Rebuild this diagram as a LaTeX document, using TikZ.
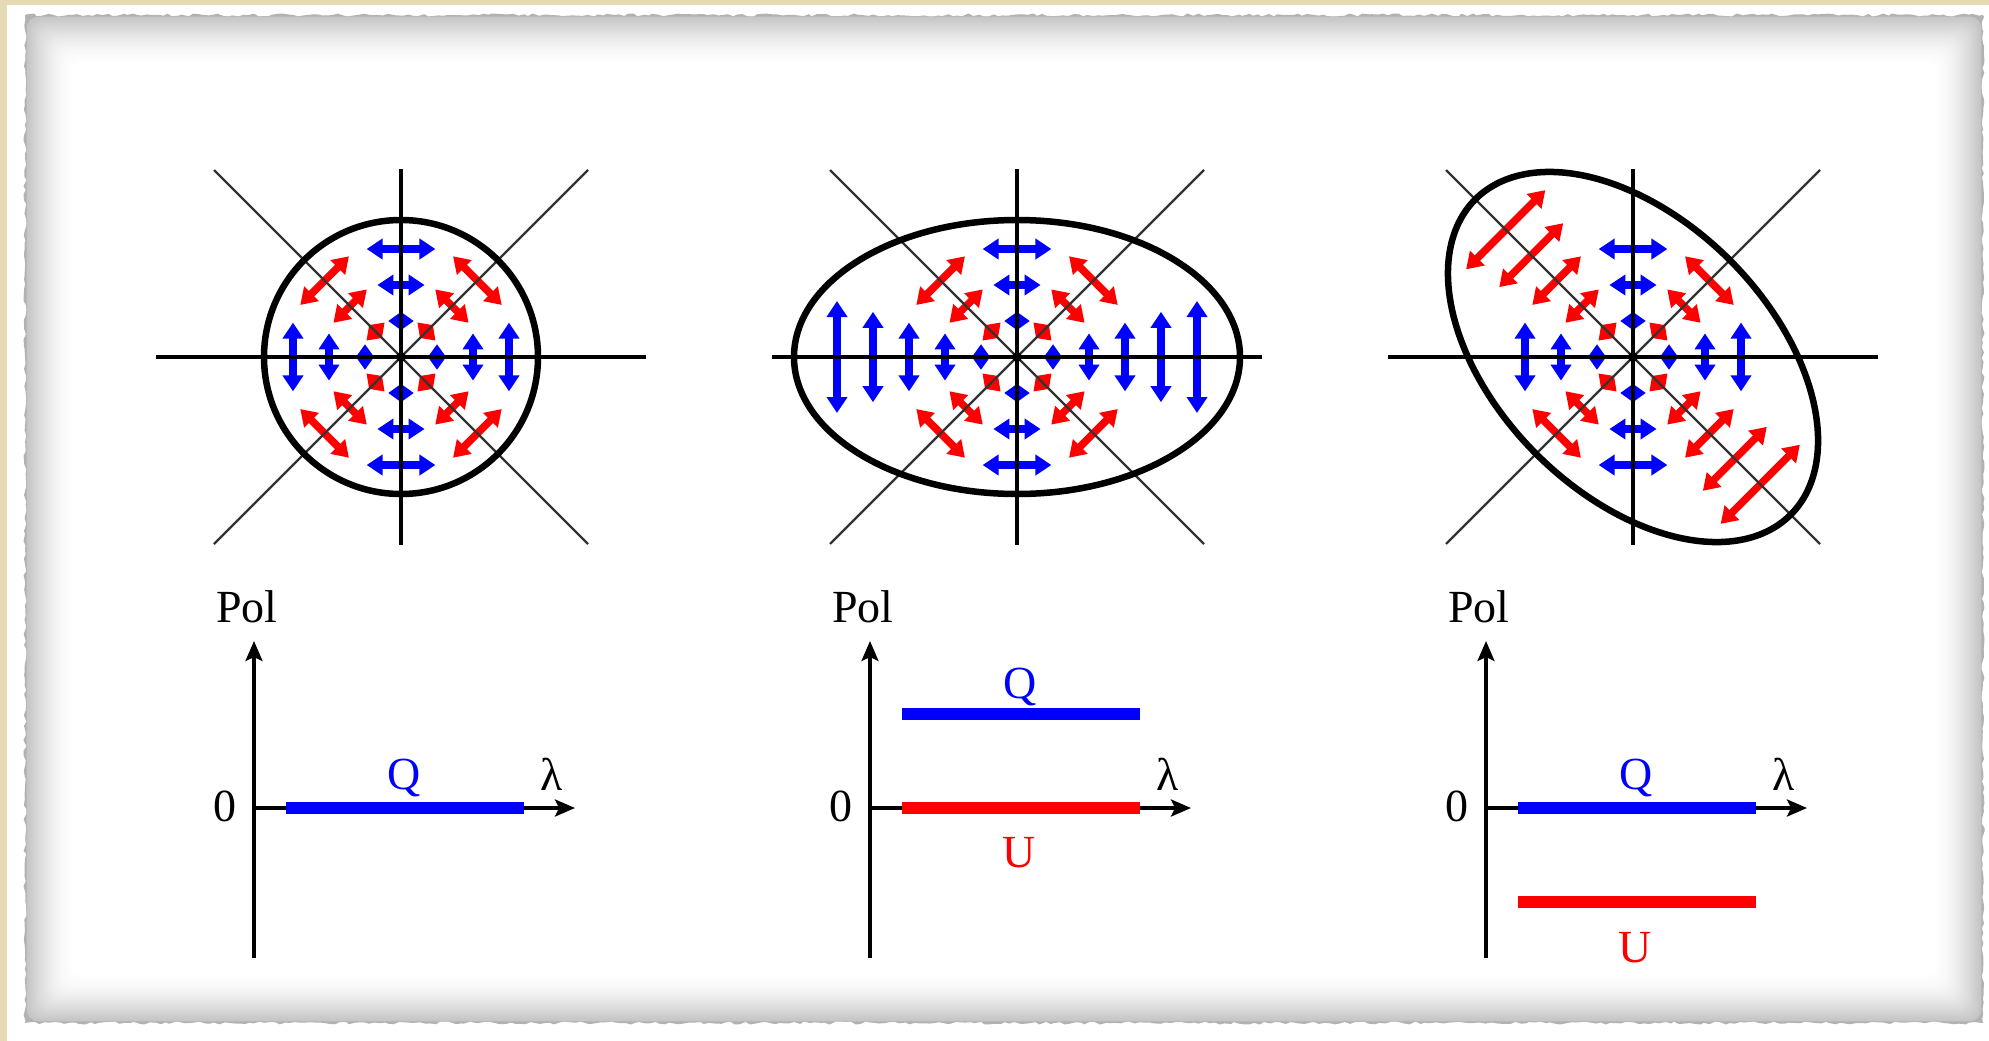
\documentclass[tikz,border=0pt]{standalone}
\usepackage{fontspec}
\setmainfont{Liberation Serif}
\usetikzlibrary{arrows.meta,decorations.pathmorphing}
\definecolor{beige}{RGB}{230,218,180}
\definecolor{qblue}{RGB}{0,0,255}
\definecolor{ured}{RGB}{255,0,0}
\newcommand\polarrow[5]{%
  \pgfmathsetmacro\pax{#1+#3*cos(#4)}%
  \pgfmathsetmacro\pay{#2+#3*sin(#4)}%
  \pgfmathsetmacro\pah{0.3*#3+2}%
  \pgfmathsetmacro\pdx{-\pah*sin(#4)}%
  \pgfmathsetmacro\pdy{\pah*cos(#4)}%
  \pgfmathsetmacro\pxa{\pax-\pdx}%
  \pgfmathsetmacro\pya{\pay-\pdy}%
  \pgfmathsetmacro\pxb{\pax+\pdx}%
  \pgfmathsetmacro\pyb{\pay+\pdy}%
  \pgfmathsetmacro\hlen{min(16,\pah)}%
  \pgfmathsetmacro\hwid{min(20,\hlen*1.35)}%
  \draw[polarr,#5,{Triangle[length=\hlen pt,width=\hwid pt]}-{Triangle[length=\hlen pt,width=\hwid pt]}] (\pxa,\pya) -- (\pxb,\pyb);%
}
\begin{document}
\begin{tikzpicture}[x=1pt,y=-1pt,
  polarr/.style={line width=7.5pt},
  axisline/.style={line width=3.2pt, black},
  diagline/.style={line width=2.2pt, black!80},
  rim/.style={line width=6.5pt, black},
  graphaxis/.style={line width=3.4pt, -{Stealth[length=20pt,width=17pt,inset=4pt]}},
  bar/.style={line width=12.5pt},
  lab/.style={font=\fontsize{46}{50}\selectfont, inner sep=0pt, anchor=base},
]
\useasboundingbox (0,0) rectangle (1989,1041);
% background and frame
\fill[beige] (0,0) rectangle (1989,1041);
\fill[white] (7,5) rectangle (1989,1041);
\pgfmathsetseed{7}
\fill[black!30, decorate, decoration={random steps,segment length=5pt,amplitude=1.5pt}] (25,15) rectangle (1983,1023);
\foreach \i in {1,...,30} {
  \pgfmathsetmacro\d{\i*1.6}
  \pgfmathsetmacro\p{24*(1-\i/30)^1.6}
  \fill[black!\p, rounded corners=12pt] (25+\d,15+\d) rectangle (1983-\d,1023-\d);
}
% polarisation arrows
\foreach \cx in {401,1017,1633} {
  \foreach \r in {36,72,108} {
    \foreach \a in {45,135,225,315} {\polarrow{\cx}{357}{\r}{\a}{ured}}
    \foreach \a in {0,90,180,270} {\polarrow{\cx}{357}{\r}{\a}{qblue}}
  }
}
\foreach \r in {144,180} {\foreach \a in {0,180} {\polarrow{1017}{357}{\r}{\a}{qblue}}}
\foreach \r in {144,180} {\foreach \a in {45,225} {\polarrow{1633}{357}{\r}{\a}{ured}}}
% axes of the maps
\foreach \cx [count=\k] in {401,1017,1633} {
  \coordinate (c\k) at (\cx,357);
  \coordinate (hl\k) at (\cx-245,357);
  \coordinate (hr\k) at (\cx+245,357);
  \coordinate (vt\k) at (\cx,169);
  \coordinate (vb\k) at (\cx,545);
  \coordinate (d1a\k) at (\cx-187,170);
  \coordinate (d1b\k) at (\cx+187,544);
  \coordinate (d2a\k) at (\cx-187,544);
  \coordinate (d2b\k) at (\cx+187,170);
  \draw[diagline] (d1a\k) -- (d1b\k);
  \draw[diagline] (d2a\k) -- (d2b\k);
  \draw[axisline] (hl\k) -- (hr\k);
  \draw[axisline] (vt\k) -- (vb\k);
  \fill (c\k) circle (5);
}
\draw[rim] (c1) circle (137);
\draw[rim] (c2) ellipse [x radius=223, y radius=137];
\draw[rim] plot[domain=0:357, samples=120, smooth cycle]
  ({1633 + 0.7071*(223*cos(\x) + 137*sin(\x))}, {357 + 0.7071*(223*cos(\x) - 137*sin(\x))});
% graphs
\foreach \ax [count=\k] in {254,870,1486} {
  \coordinate (o\k) at (\ax,808);
  \coordinate (yt\k) at (\ax,641);
  \coordinate (yb\k) at (\ax,958);
  \coordinate (xe\k) at (\ax+321,808);
  \draw[graphaxis] (yb\k) -- (yt\k);
  \draw[graphaxis] (o\k) -- (xe\k);
  \node[lab] (pol\k) at (\ax-7,622) {Pol};
  \node[lab] (zero\k) at (\ax-29,821) {0};
  \node[lab] (lam\k) at (\ax+298,790) {λ};
}
% panel 1
\coordinate (q1a) at (286,808); \coordinate (q1b) at (524,808);
\draw[bar,qblue] (q1a) -- (q1b);
\node[lab,text=qblue] (q1) at (404,789) {Q};
% panel 2
\coordinate (q2a) at (902,714); \coordinate (q2b) at (1140,714);
\coordinate (u2a) at (902,808); \coordinate (u2b) at (1140,808);
\draw[bar,qblue] (q2a) -- (q2b);
\draw[bar,ured] (u2a) -- (u2b);
\node[lab,text=qblue] (q2) at (1020,698) {Q};
\node[lab,text=ured] (u2) at (1019,867) {U};
% panel 3
\coordinate (q3a) at (1518,808); \coordinate (q3b) at (1756,808);
\coordinate (u3a) at (1518,902); \coordinate (u3b) at (1756,902);
\draw[bar,qblue] (q3a) -- (q3b);
\draw[bar,ured] (u3a) -- (u3b);
\node[lab,text=qblue] (q3) at (1636,789) {Q};
\node[lab,text=ured] (u3) at (1635,962) {U};
\end{tikzpicture}
\end{document}
